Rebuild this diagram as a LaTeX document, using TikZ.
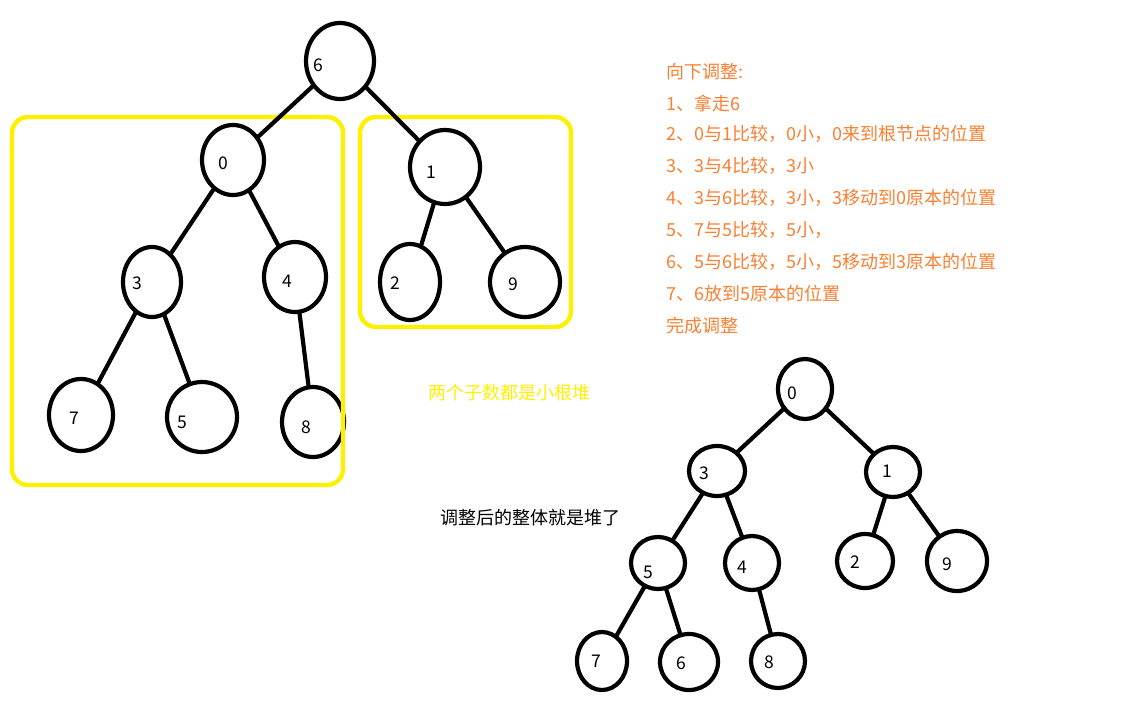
\documentclass[tikz,border=0pt]{standalone}
\usepackage{fontspec}
\setmainfont{Noto Sans CJK SC}
\usetikzlibrary{shapes.geometric}
\definecolor{hlyellow}{RGB}{255,240,0}
\definecolor{steporange}{RGB}{250,128,50}
\tikzset{
  nd/.style={ellipse, draw=black, line width=4.2pt, inner sep=0pt, outer sep=0pt},
  lbl/.style={font=\fontsize{17.5}{20}\selectfont, inner sep=0pt},
  edge/.style={draw=black, line width=4.2pt},
  groupbox/.style={draw=hlyellow, line width=4.4pt, rounded corners=16pt},
  steptext/.style={anchor=west, inner sep=0pt, text=steporange, font=\fontsize{18}{21}\selectfont},
}
\begin{document}
\begin{tikzpicture}[x=1pt,y=-1pt]
\fill[white] (0,0) rectangle (1142,715);
\useasboundingbox (0,0) rectangle (1142,715);
% top tree
\node[nd, minimum width=68pt, minimum height=76pt, label={[lbl, shift={(-22,4)}]center:6}] (t6) at (340,61) {};
\node[nd, minimum width=62pt, minimum height=70pt, label={[lbl, shift={(-10,3)}]center:0}] (t0) at (233,160) {};
\node[nd, minimum width=70pt, minimum height=74pt, label={[lbl, shift={(-14,5)}]center:1}] (t1) at (445,167) {};
\node[nd, minimum width=58pt, minimum height=70pt, label={[lbl, shift={(-15,1)}]center:3}] (t3) at (152,282) {};
\node[nd, minimum width=62pt, minimum height=70pt, label={[lbl, shift={(-8,4)}]center:4}] (t4) at (295,277) {};
\node[nd, minimum width=60pt, minimum height=76pt, label={[lbl, shift={(-15,1)}]center:2}] (t2) at (410,282) {};
\node[nd, minimum width=70pt, minimum height=70pt, label={[lbl, shift={(-12,2)}]center:9}] (t9) at (525,282) {};
\node[nd, minimum width=64pt, minimum height=72pt, label={[lbl, shift={(-7,3)}]center:7}] (t7) at (81,415) {};
\node[nd, minimum width=70pt, minimum height=70pt, label={[lbl, shift={(-20,5)}]center:5}] (t5) at (202,417) {};
\node[nd, minimum width=62pt, minimum height=70pt, label={[lbl, shift={(-7,5)}]center:8}] (t8) at (313,422) {};
% yellow groups
\draw[groupbox] (12,117) rectangle (343,485);
\draw[groupbox] (360,117) rectangle (571,327);
% top edges
\draw[edge] (t6) -- (t0);
\draw[edge] (t6) -- (t1);
\draw[edge] (t0) -- (t3);
\draw[edge] (t0) -- (t4);
\draw[edge] (t3) -- (t7);
\draw[edge] (t3) -- (t5);
\draw[edge] (t4) -- (t8);
\draw[edge] (t1) -- (t2);
\draw[edge] (t1) -- (t9);
% bottom tree
\node[nd, minimum width=54pt, minimum height=60pt, label={[lbl, shift={(-13,4)}]center:0}] (b0) at (805,389) {};
\node[nd, minimum width=56pt, minimum height=50pt, label={[lbl, shift={(-13,2)}]center:3}] (b3) at (717,471) {};
\node[nd, minimum width=54pt, minimum height=50pt, label={[lbl, shift={(-6,-1)}]center:1}] (b1) at (893,472) {};
\node[nd, minimum width=54pt, minimum height=52pt, label={[lbl, shift={(-10,9)}]center:5}] (b5) at (658,563) {};
\node[nd, minimum width=54pt, minimum height=54pt, label={[lbl, shift={(-10,4)}]center:4}] (b4) at (752,563) {};
\node[nd, minimum width=56pt, minimum height=54pt, label={[lbl, shift={(-10,1)}]center:2}] (b2) at (865,561) {};
\node[nd, minimum width=60pt, minimum height=60pt, label={[lbl, shift={(-10,3)}]center:9}] (b9) at (957,561) {};
\node[nd, minimum width=50pt, minimum height=58pt, label={[lbl, shift={(-6,0)}]center:7}] (b7) at (602,661) {};
\node[nd, minimum width=58pt, minimum height=56pt, label={[lbl, shift={(-8,1)}]center:6}] (b6) at (689,662) {};
\node[nd, minimum width=54pt, minimum height=54pt, label={[lbl, shift={(-9,1)}]center:8}] (b8) at (778,661) {};
\draw[edge] (b0) -- (b3);
\draw[edge] (b0) -- (b1);
\draw[edge] (b3) -- (b5);
\draw[edge] (b3) -- (b4);
\draw[edge] (b1) -- (b2);
\draw[edge] (b1) -- (b9);
\draw[edge] (b5) -- (b7);
\draw[edge] (b5) -- (b6);
\draw[edge] (b4) -- (b8);
% texts
\node[steptext] (s0) at (666,72) {向下调整:};
\node[steptext] (s1) at (666,103) {1、拿走6};
\node[steptext] (s2) at (666,134) {2、0与1比较，0小，0来到根节点的位置};
\node[steptext] (s3) at (666,166) {3、3与4比较，3小};
\node[steptext] (s4) at (666,198) {4、3与6比较，3小，3移动到0原本的位置};
\node[steptext] (s5) at (666,230) {5、7与5比较，5小，};
\node[steptext] (s6) at (666,262) {6、5与6比较，5小，5移动到3原本的位置};
\node[steptext] (s7) at (666,294) {7、6放到5原本的位置};
\node[steptext] (s8) at (666,326) {完成调整};
\node[anchor=west, inner sep=0pt, text=hlyellow, font=\fontsize{18}{21}\selectfont] (note1) at (428,393) {两个子数都是小根堆};
\node[anchor=west, inner sep=0pt, text=black, font=\fontsize{18}{21}\selectfont] (note2) at (440,518) {调整后的整体就是堆了};
\end{tikzpicture}
\end{document}
